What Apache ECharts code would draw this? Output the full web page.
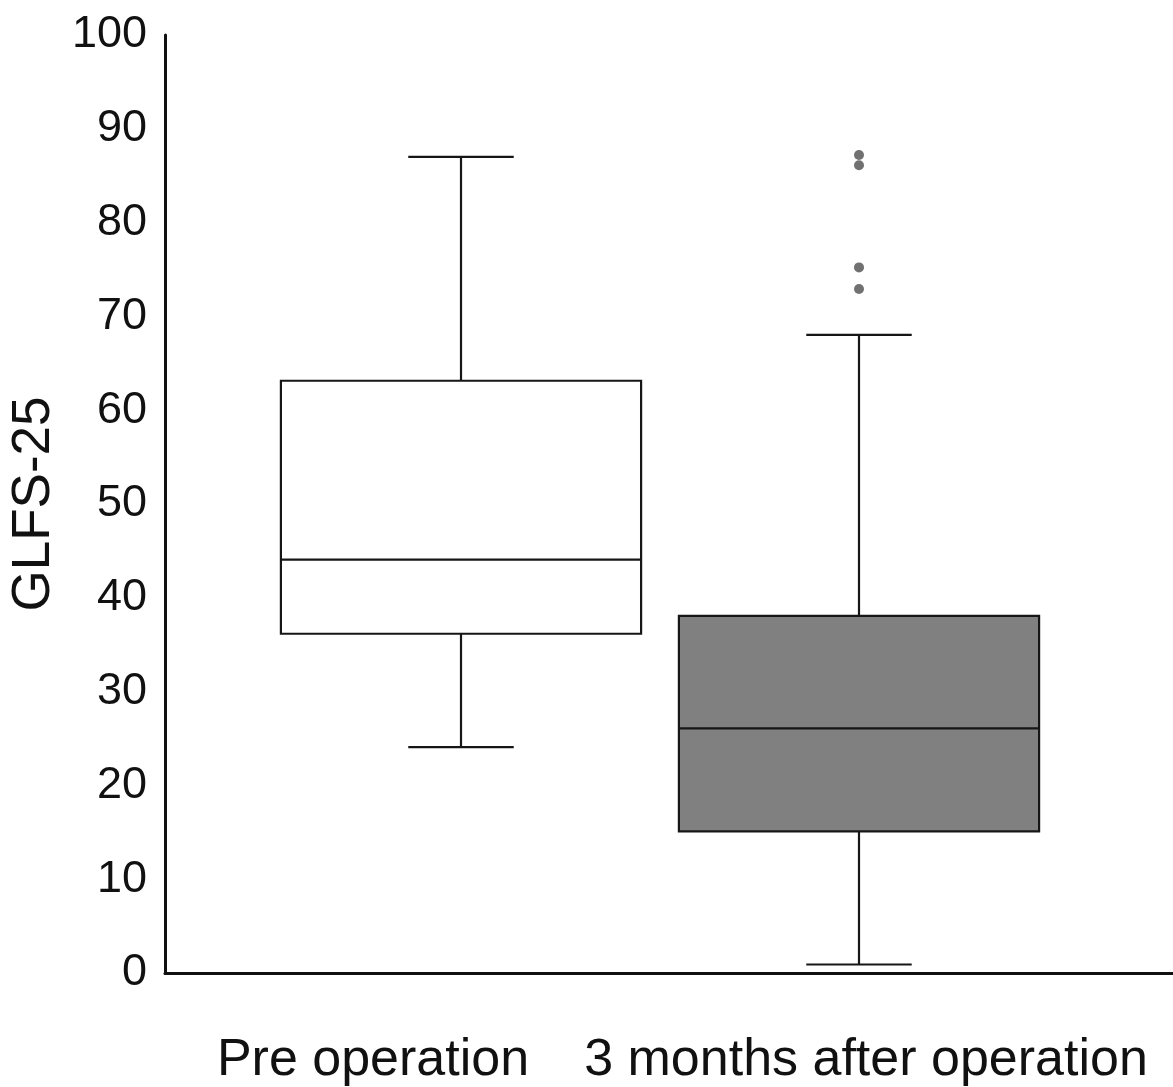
<!DOCTYPE html>
<html>
<head>
<meta charset="utf-8">
<script src="https://cdn.jsdelivr.net/npm/echarts@6/dist/echarts.min.js"></script>
<style>html,body{margin:0;padding:0;background:#fff;}#chart{width:1173px;height:1087px;}</style>
</head>
<body>
<div id="chart"></div>
<script>
const categories = ['Pre operation', '3 months after operation'];
// [min, Q1, median, Q3, max]
const boxStats = [
  [24, 36.1, 44, 63.1, 87],
  [0.8, 15, 26, 38, 68]
];
const boxFills = ['#ffffff', '#808080'];
const outliers = [
  [1, 87.2], [1, 86.1], [1, 75.2], [1, 72.9]
];
const yTicks = { min: 0, max: 100, interval: 10 };

const chart = echarts.init(document.getElementById('chart'));
const font = 'Liberation Sans, Arial, sans-serif';

const boxData = boxStats.map((s, i) => [i].concat(s));

chart.setOption({
  animation: false,
  backgroundColor: '#ffffff',
  grid: [
    { left: 163, right: 0, top: 35, bottom: 114 },
    { left: 262, width: 796, top: 35, bottom: 114 }
  ],
  xAxis: [
    { gridIndex: 0, type: 'category', data: ['', ''], axisLine: { lineStyle: { color: '#111', width: 3 } },
      axisTick: { show: false }, axisLabel: { show: false }, splitLine: { show: false } },
    { gridIndex: 1, type: 'category', data: categories,
      axisLine: { show: false }, axisTick: { show: false },
      axisLabel: {
        interval: 0, hideOverlap: false,
        margin: 63, fontSize: 52, color: '#111', fontFamily: font,
        formatter: (v, i) => i === 0 ? '{a|' + v + '}' : '{b|' + v + '}',
        rich: {
          a: { fontSize: 52, fontFamily: font, color: '#111', padding: [0, 176, 0, 0] },
          b: { fontSize: 52, fontFamily: font, color: '#111', padding: [0, 0, 0, 14] }
        }
      } }
  ],
  yAxis: [
    { gridIndex: 0, type: 'value', min: yTicks.min, max: yTicks.max, interval: yTicks.interval,
      name: 'GLFS-25', nameLocation: 'middle', nameGap: 92,
      nameTextStyle: { fontSize: 53, color: '#111', fontFamily: font },
      axisLine: { show: true, lineStyle: { color: '#111', width: 3 } },
      axisTick: { show: false }, splitLine: { show: false },
      axisLabel: { margin: 18, fontSize: 45, color: '#111', fontFamily: font } },
    { gridIndex: 1, type: 'value', min: yTicks.min, max: yTicks.max, interval: yTicks.interval,
      show: false, splitLine: { show: false } }
  ],
  series: [
    {
      type: 'custom', xAxisIndex: 1, yAxisIndex: 1, data: boxData,
      encode: { x: 0, y: [1, 2, 3, 4, 5] },
      renderItem: function (params, api) {
        const idx = api.value(0);
        const band = api.size([1, 0])[0];
        const bw = band * 0.905, cw = band * 0.265;
        const pMin = api.coord([idx, api.value(1)]);
        const pQ1 = api.coord([idx, api.value(2)]);
        const pMed = api.coord([idx, api.value(3)]);
        const pQ3 = api.coord([idx, api.value(4)]);
        const pMax = api.coord([idx, api.value(5)]);
        const cx = pMed[0];
        const st = { stroke: '#161616', lineWidth: 2.2 };
        return {
          type: 'group',
          children: [
            { type: 'line', shape: { x1: cx, y1: pMax[1], x2: cx, y2: pQ3[1] }, style: st },
            { type: 'line', shape: { x1: cx, y1: pQ1[1], x2: cx, y2: pMin[1] }, style: st },
            { type: 'line', shape: { x1: cx - cw / 2, y1: pMax[1], x2: cx + cw / 2, y2: pMax[1] }, style: st },
            { type: 'line', shape: { x1: cx - cw / 2, y1: pMin[1], x2: cx + cw / 2, y2: pMin[1] }, style: st },
            { type: 'rect', shape: { x: cx - bw / 2, y: pQ3[1], width: bw, height: pQ1[1] - pQ3[1] },
              style: { fill: boxFills[idx], stroke: '#161616', lineWidth: 2.2 } },
            { type: 'line', shape: { x1: cx - bw / 2, y1: pMed[1], x2: cx + bw / 2, y2: pMed[1] }, style: st }
          ]
        };
      }
    },
    {
      type: 'scatter', xAxisIndex: 1, yAxisIndex: 1, data: outliers,
      symbol: 'circle', symbolSize: 10, itemStyle: { color: '#4d4d4d' }
    }
  ]
});
</script>
</body>
</html>
